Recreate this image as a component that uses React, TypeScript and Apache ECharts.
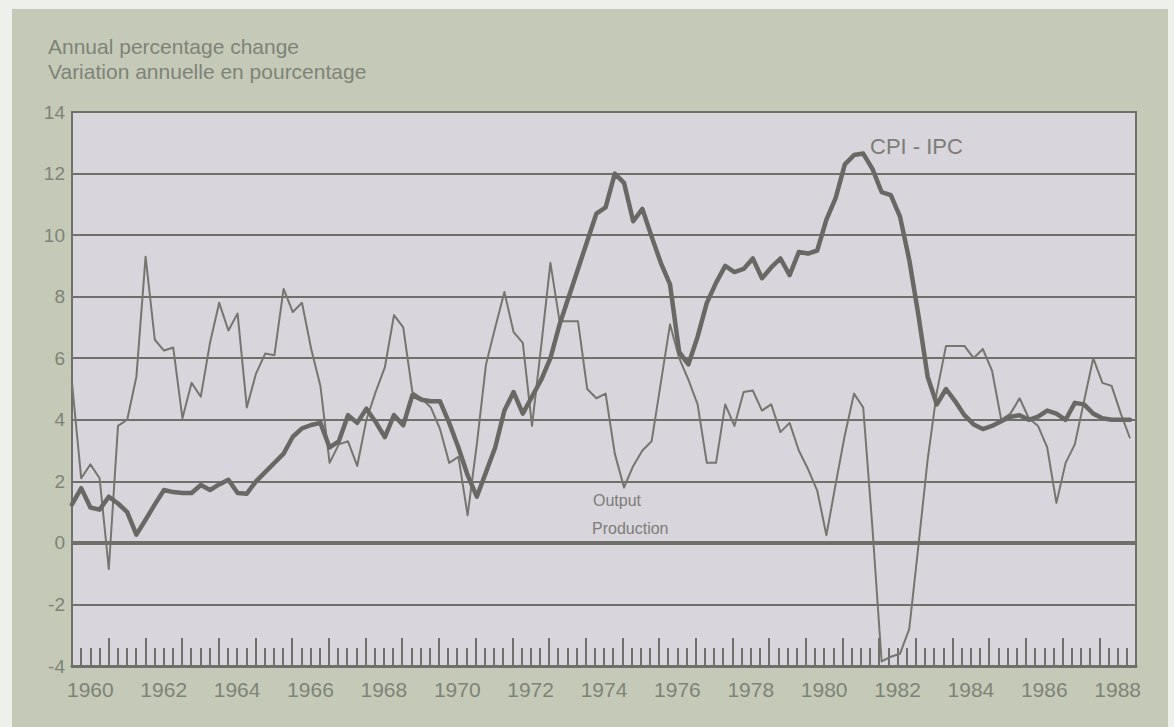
import React, { useEffect, useRef } from "react";
import * as echarts from "echarts";

// Year labels on the time axis (one band per year)
const YEARS = [
  "1960", "1961", "1962", "1963", "1964", "1965", "1966", "1967", "1968", "1969",
  "1970", "1971", "1972", "1973", "1974", "1975", "1976", "1977", "1978", "1979",
  "1980", "1981", "1982", "1983", "1984", "1985", "1986", "1987", "1988",
];

// Quarterly observations, 1960 Q1 onwards (annual percentage change)
const CPI = [
  1.25, 1.78, 1.15, 1.08, 1.5, 1.28, 1.0, 0.27, 0.75, 1.25,
  1.72, 1.65, 1.62, 1.62, 1.88, 1.72, 1.9, 2.05, 1.62, 1.6,
  2.0, 2.3, 2.6, 2.9, 3.45, 3.72, 3.83, 3.9, 3.1, 3.3,
  4.15, 3.9, 4.36, 3.93, 3.44, 4.15, 3.82, 4.8, 4.65, 4.6,
  4.6, 3.9, 3.1, 2.2, 1.5, 2.3, 3.1, 4.3, 4.9, 4.2,
  4.75, 5.3, 6.0, 7.1, 8.0, 8.9, 9.8, 10.7, 10.9, 12.0,
  11.7, 10.45, 10.85, 9.95, 9.1, 8.4, 6.2, 5.8, 6.7, 7.8,
  8.45, 9.0, 8.8, 8.9, 9.24, 8.6, 8.95, 9.24, 8.7, 9.45,
  9.4, 9.5, 10.5, 11.2, 12.3, 12.6, 12.65, 12.15, 11.4, 11.3,
  10.6, 9.2, 7.4, 5.4, 4.5, 5.0, 4.6, 4.15, 3.85, 3.7,
  3.8, 3.95, 4.1, 4.15, 4.0, 4.1, 4.3, 4.2, 4.0, 4.55,
  4.5, 4.2, 4.05, 4.0, 4.0, 4.0,
];

const OUTPUT = [
  5.2, 2.1, 2.55, 2.1, -0.85, 3.8, 4.0, 5.4, 9.3, 6.6,
  6.25, 6.35, 4.05, 5.2, 4.75, 6.5, 7.8, 6.9, 7.45, 4.4,
  5.5, 6.15, 6.1, 8.25, 7.5, 7.8, 6.3, 5.1, 2.6, 3.2,
  3.3, 2.5, 4.0, 4.9, 5.7, 7.4, 7.0, 4.9, 4.7, 4.4,
  3.7, 2.6, 2.8, 0.9, 3.2, 5.8, 7.0, 8.15, 6.85, 6.5,
  3.8, 6.4, 9.1, 7.2, 7.2, 7.2, 5.0, 4.7, 4.85, 2.9,
  1.8, 2.5, 3.0, 3.3, 5.2, 7.1, 6.0, 5.3, 4.5, 2.6,
  2.6, 4.5, 3.8, 4.9, 4.95, 4.3, 4.5, 3.6, 3.9, 3.0,
  2.4, 1.7, 0.25, 1.9, 3.5, 4.85, 4.4, 0.5, -3.85, -3.7,
  -3.6, -2.8, -0.1, 2.7, 4.9, 6.4, 6.4, 6.4, 6.0, 6.3,
  5.6, 4.0, 4.2, 4.7, 4.05, 3.8, 3.1, 1.3, 2.6, 3.2,
  4.6, 6.0, 5.2, 5.1, 4.2, 3.4,
];

const TITLE_EN = "Annual percentage change";
const TITLE_FR = "Variation annuelle en pourcentage";
const CPI_LABEL = "CPI - IPC";
const OUTPUT_LABEL_EN = "Output";
const OUTPUT_LABEL_FR = "Production";

const LINE = "#6f706a";
const TEXT = "#7e8378";
const FONT = '"Liberation Sans", Arial, sans-serif';

export default function App() {
  const ref = useRef<HTMLDivElement>(null);

  useEffect(() => {
    if (!ref.current) return;
    const chart = echarts.init(ref.current, undefined, { renderer: "svg" });
    const lastIndex = CPI.length - 1;
    const option = {
      animation: false,
      backgroundColor: "#eef0ec",
      graphic: [
        {
          type: "rect",
          z: -10,
          silent: true,
          shape: { x: 12, y: 9, width: 1156, height: 718 },
          style: { fill: "#c5cab8" },
        },
        {
          type: "text",
          x: 48,
          y: 46,
          z: 10,
          style: { text: TITLE_EN, fill: TEXT, fontSize: 21, fontFamily: FONT, verticalAlign: "middle" },
        },
        {
          type: "text",
          x: 48,
          y: 71,
          z: 10,
          style: { text: TITLE_FR, fill: TEXT, fontSize: 21, fontFamily: FONT, verticalAlign: "middle" },
        },
        {
          type: "text",
          x: 870,
          y: 146,
          z: 10,
          style: { text: CPI_LABEL, fill: "#7c7d78", fontSize: 22, fontFamily: FONT, verticalAlign: "middle" },
        },
        {
          type: "text",
          x: 593,
          y: 500,
          z: 10,
          style: { text: OUTPUT_LABEL_EN, fill: "#7c7d78", fontSize: 16, fontFamily: FONT, verticalAlign: "middle" },
        },
        {
          type: "text",
          x: 592,
          y: 528,
          z: 10,
          style: { text: OUTPUT_LABEL_FR, fill: "#7c7d78", fontSize: 16, fontFamily: FONT, verticalAlign: "middle" },
        },
      ],
      grid: {
        left: 72,
        top: 112,
        right: 38,
        bottom: 61,
        show: true,
        backgroundColor: "#d9d5dc",
        borderColor: LINE,
        borderWidth: 2,
      },
      xAxis: [
        {
          type: "value",
          min: 1960,
          max: 1989,
          interval: 1,
          position: "bottom",
          axisLine: { show: true, onZero: false, lineStyle: { color: LINE, width: 3 } },
          axisTick: { show: true, inside: true, length: 28, lineStyle: { color: LINE, width: 2 } },
          minorTick: { show: true, splitNumber: 4, length: 18, lineStyle: { color: LINE, width: 2 } },
          axisLabel: { show: false },
          splitLine: { show: false },
        },
        {
          type: "category",
          data: YEARS,
          position: "bottom",
          boundaryGap: true,
          axisLine: { show: false },
          axisTick: { show: false },
          axisLabel: { interval: 1, color: TEXT, fontSize: 21, fontFamily: FONT, margin: 13 },
          splitLine: { show: false },
        },
        {
          type: "value",
          min: 0,
          max: lastIndex + 0.65,
          show: false,
          splitLine: { show: false },
        },
      ],
      yAxis: {
        type: "value",
        min: -4,
        max: 14,
        interval: 2,
        axisLine: { show: true, onZero: false, lineStyle: { color: LINE, width: 2 } },
        axisTick: { show: false },
        axisLabel: { color: TEXT, fontSize: 19, fontFamily: FONT, margin: 7 },
        splitLine: { show: true, lineStyle: { color: LINE, width: 2 } },
      },
      series: [
        {
          name: "Output",
          type: "line",
          xAxisIndex: 2,
          yAxisIndex: 0,
          data: OUTPUT.map((v, i) => [i, v]),
          symbol: "none",
          z: 3,
          lineStyle: { color: "#75766f", width: 2, join: "round" },
          markLine: {
            silent: true,
            symbol: "none",
            label: { show: false },
            lineStyle: { color: LINE, width: 4, type: "solid" },
            data: [{ yAxis: 0 }],
          },
        },
        {
          name: "CPI",
          type: "line",
          xAxisIndex: 2,
          yAxisIndex: 0,
          data: CPI.map((v, i) => [i, v]),
          symbol: "none",
          z: 4,
          lineStyle: { color: "#686964", width: 4.5, join: "round", cap: "round" },
        },
      ],
    };
    chart.setOption(option as any);
    return () => chart.dispose();
  }, []);

  return (
    <div
      ref={ref}
      style={{ position: "absolute", left: 0, top: 0, width: 1174, height: 727 }}
    />
  );
}
